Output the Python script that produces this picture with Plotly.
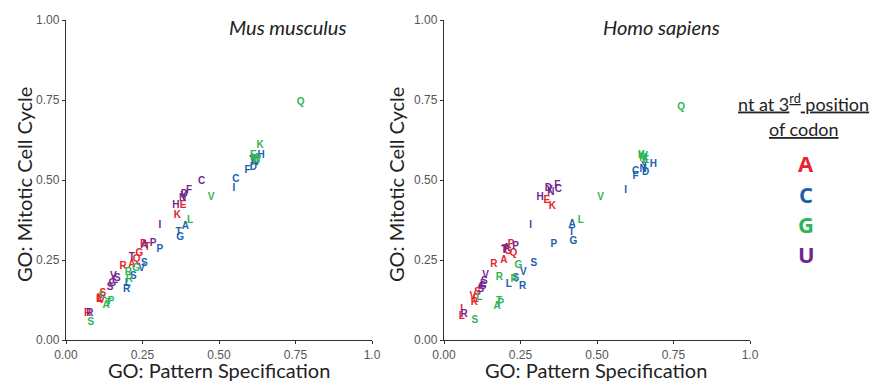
import plotly.graph_objects as go
from plotly.subplots import make_subplots

# ---- Data: Mus musculus (codon points: amino acid letter, 3rd nt, x, y) ----
mouse_aa = ["E","K","T","P","G","Q","A","R","R","S","L","V","I","L",
            "C","I","H","Y","N","D","F","A","T","G","P","S","V","S","L","R",
            "Q","K","E","M","W","V","L","G","R","R","P","A","T","L","S",
            "C","F","D","N","Y","H","I","P","A","T","V","S","G","S","L","R"]
mouse_nt = ["A"]*14 + ["C"]*16 + ["G"]*15 + ["U"]*16
mouse_x = [0.383,0.364,0.266,0.253,0.240,0.231,0.215,0.187,0.071,0.120,0.111,0.117,0.112,0.108,
           0.555,0.549,0.638,0.609,0.618,0.612,0.593,0.390,0.368,0.373,0.307,0.256,0.247,0.220,0.202,0.198,
           0.767,0.634,0.612,0.616,0.622,0.474,0.405,0.229,0.204,0.207,0.147,0.131,0.138,0.121,0.081,
           0.443,0.402,0.387,0.381,0.384,0.359,0.307,0.285,0.255,0.215,0.155,0.168,0.152,0.144,0.160,0.078]
mouse_y = [0.420,0.388,0.290,0.297,0.271,0.252,0.2375,0.231,0.083,0.146,0.130,0.123,0.135,0.126,
           0.502,0.474,0.576,0.5625,0.554,0.540,0.529,0.356,0.335,0.320,0.283,0.240,0.224,0.200,0.177,0.159,
           0.743,0.607,0.578,0.568,0.562,0.446,0.373,0.224,0.210,0.190,0.120,0.108,0.113,0.140,0.054,
           0.495,0.467,0.455,0.441,0.447,0.420,0.359,0.302,0.294,0.258,0.198,0.193,0.177,0.164,0.185,0.083]

# ---- Data: Homo sapiens ----
human_aa = ["E","K","P","G","Q","T","A","R","S","V","R","L","I","L",
            "H","Y","N","D","C","F","I","A","T","G","P","S","V","S","L","R",
            "Q","K","E","M","W","V","L","G","R","R","L","T","P","A","S",
            "F","D","N","C","Y","H","I","P","T","A","V","S","G","S","L","R"]
human_nt = ["A"]*14 + ["C"]*16 + ["G"]*15 + ["U"]*16
human_x = [0.336,0.354,0.219,0.210,0.227,0.200,0.196,0.163,0.110,0.094,0.099,0.104,0.058,0.058,
           0.684,0.655,0.651,0.659,0.626,0.626,0.594,0.419,0.417,0.423,0.359,0.294,0.259,0.235,0.212,0.257,
           0.775,0.646,0.660,0.652,0.650,0.512,0.447,0.243,0.181,0.229,0.115,0.180,0.186,0.174,0.101,
           0.370,0.341,0.349,0.374,0.345,0.314,0.283,0.234,0.196,0.205,0.136,0.132,0.126,0.120,0.128,0.066]
human_y = [0.4375,0.417,0.297,0.276,0.271,0.284,0.248,0.2375,0.148,0.1375,0.117,0.128,0.094,0.073,
           0.550,0.542,0.533,0.523,0.528,0.510,0.467,0.362,0.335,0.307,0.299,0.240,0.210,0.193,0.175,0.167,
           0.726,0.578,0.560,0.568,0.572,0.446,0.372,0.232,0.195,0.190,0.133,0.120,0.115,0.106,0.0625,
           0.484,0.474,0.461,0.469,0.468,0.445,0.357,0.292,0.279,0.285,0.203,0.182,0.167,0.157,0.172,0.080]

nts = ["A","C","G","U"]
nt_colors = {"A": "#E8232B", "C": "#1C5FAD", "G": "#2FB457", "U": "#74278F"}

x_tickvals = [0, 0.25, 0.5, 0.75, 1.0]
x_ticktext = ["0.00", "0.25", "0.50", "0.75", "1.0"]
y_tickvals = [0, 0.25, 0.5, 0.75, 1.0]
y_ticktext = ["0.00", "0.25", "0.50", "0.75", "1.00"]

panel_titles = ["Mus musculus", "Homo sapiens"]
x_title = "GO: Pattern Specification"
y_title = "GO: Mitotic Cell Cycle"

W, H = 877, 381
ml, mr, mt, mb = 66, 127, 20, 41
pw, ph = W - ml - mr, H - mt - mb

def px_to_paper(px, py):
    return (px - ml) / pw, (H - mb - py) / ph

fig = make_subplots(rows=1, cols=2, horizontal_spacing=72 / pw)

for col, (aa, nt, xs, ys) in enumerate([(mouse_aa, mouse_nt, mouse_x, mouse_y),
                                        (human_aa, human_nt, human_x, human_y)], start=1):
    for n in nts:
        idx = [i for i, v in enumerate(nt) if v == n]
        fig.add_trace(go.Scatter(
            x=[xs[i] for i in idx], y=[ys[i] for i in idx],
            text=[aa[i] for i in idx], mode="text",
            textposition="middle center",
            textfont=dict(family="Liberation Sans", size=10, color=nt_colors[n], weight="bold"),
            showlegend=False, hoverinfo="skip", cliponaxis=False),
            row=1, col=col)

axis_common = dict(range=[0, 1.0], showgrid=False, zeroline=False, showline=True,
                   linecolor="#333333", linewidth=1.3, ticks="outside", ticklen=3,
                   tickcolor="#333333", tickwidth=1, automargin=False,
                   tickfont=dict(family="Liberation Sans", size=12, color="#555555"))

for col in (1, 2):
    fig.update_xaxes(tickvals=x_tickvals, ticktext=x_ticktext, row=1, col=col, **axis_common)
    fig.update_yaxes(tickvals=y_tickvals, ticktext=y_ticktext, row=1, col=col, **axis_common)

title_font = dict(family="Lato", size=20, color="#222222")

# axis titles (placed in pixel positions of the reference)
for cx in (219, 596):
    ax, ay = px_to_paper(cx, 370)
    fig.add_annotation(text=x_title, x=ax, y=ay, xref="paper", yref="paper", showarrow=False,
                       xanchor="center", yanchor="middle", font=title_font)
for cx in (24, 396):
    ax, ay = px_to_paper(cx, 185)
    fig.add_annotation(text=y_title, x=ax, y=ay, xref="paper", yref="paper", showarrow=False,
                       xanchor="center", yanchor="middle", textangle=-90, font=title_font)

# panel titles
for (rx, t) in zip((348, 722), panel_titles):
    ax, ay = px_to_paper(rx, 27)
    fig.add_annotation(text="<i>%s</i>" % t, x=ax, y=ay, xref="paper", yref="paper",
                       xanchor="right", yanchor="middle", showarrow=False, font=title_font)

# Legend (text-based)
leg_font = dict(family="Lato", size=18, color="#222222")
ax, ay = px_to_paper(803, 103)
fig.add_annotation(text="<u>nt at 3<sup>rd</sup> position</u>", x=ax, y=ay,
                   xref="paper", yref="paper", showarrow=False, xanchor="center", yanchor="middle",
                   font=leg_font)
ax, ay = px_to_paper(804, 129)
fig.add_annotation(text="<u>of codon</u>", x=ax, y=ay, xref="paper", yref="paper",
                   showarrow=False, xanchor="center", yanchor="middle", font=leg_font)

legend_y = [163, 194, 224, 254]
for n, ly in zip(nts, legend_y):
    ax, ay = px_to_paper(806, ly)
    fig.add_annotation(text="<b>%s</b>" % n, x=ax, y=ay, xref="paper", yref="paper",
                       showarrow=False, xanchor="center", yanchor="middle",
                       font=dict(family="Open Sans", size=22, color=nt_colors[n]))

fig.update_layout(width=W, height=H, margin=dict(l=ml, r=mr, t=mt, b=mb, autoexpand=False),
                  plot_bgcolor="white", paper_bgcolor="white")

fig.write_html("out.html", config={"displayModeBar": False},
               post_script="document.body.style.margin='0px';document.body.style.overflow='hidden';")
